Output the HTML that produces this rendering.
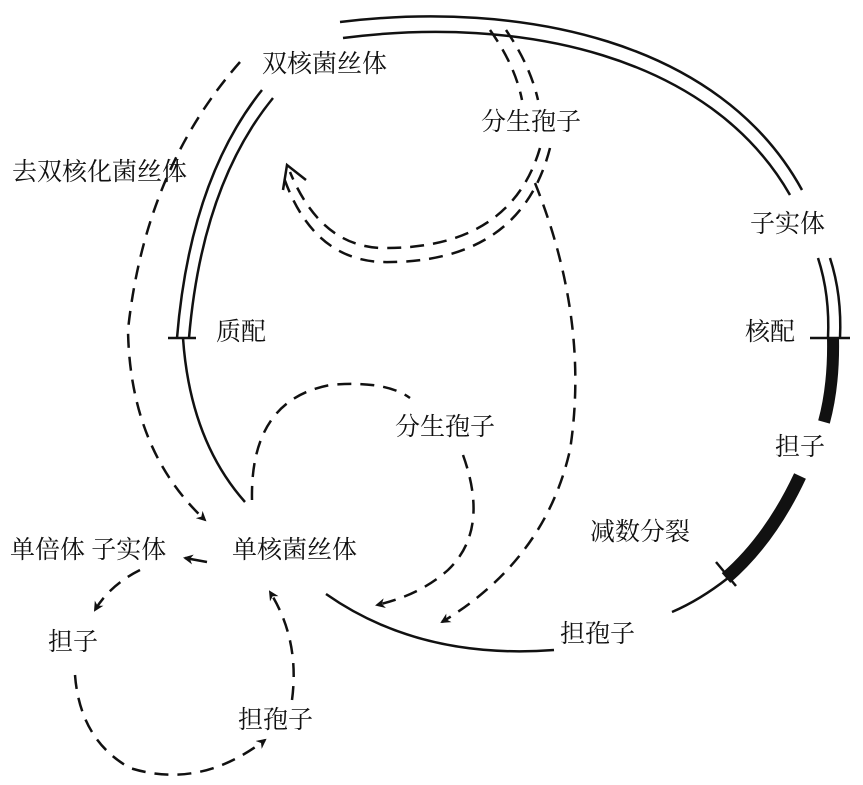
<!DOCTYPE html>
<html><head><meta charset="utf-8"><style>
html,body{margin:0;padding:0;background:#fff;}
svg{display:block}
text{font-family:"Liberation Serif","Noto Serif CJK SC",serif;font-size:25px;fill:#111;}
</style></head><body>
<svg width="863" height="785" viewBox="0 0 863 785" xmlns="http://www.w3.org/2000/svg">
<defs>
<marker id="ah" markerWidth="10" markerHeight="10" refX="8" refY="5" orient="auto" markerUnits="userSpaceOnUse">
<path d="M0,0 L10,5 L0,10 L3,5 Z" fill="#111"/></marker>
</defs>
<g fill="none" stroke="#111" stroke-width="2.5">
<path d="M262,90 Q190,180 177,338"/>
<path d="M273,98 Q202,185 189,338"/>
<path d="M168,338 H196"/>
<path d="M183,338 Q190,440 245,502"/>
<path d="M340,22 C520,0 720,40 802,190"/>
<path d="M343,38 C520,15 710,55 790,195"/>
<path d="M818,258 Q830,295 828,338"/>
<path d="M830,258 Q842,295 840,338"/>
<path d="M810,338 H850"/>
<path d="M833,338 Q834,385 824,422" stroke-width="12"/>
<path d="M800,476 Q770,540 726,578" stroke-width="13"/>
<path d="M716,562 L736,586"/>
<path d="M728,578 Q700,600 672,612"/>
<path d="M326,594 Q420,660 554,650"/>
<path d="M283,190 L287,165 L306,180"/>
</g>
<g fill="none" stroke="#111" stroke-width="2.5" stroke-dasharray="14,9">
<path d="M490,30 Q515,65 522,100"/>
<path d="M506,30 Q530,65 538,100"/>
<path d="M540,148 Q510,250 380,248 Q320,245 290,172"/>
<path d="M550,148 Q520,265 380,262 Q310,258 282,172"/>
<path d="M535,183 Q590,320 570,450 Q545,560 442,622" marker-end="url(#ah)"/>
<path d="M240,62 Q145,170 128,330 Q130,450 205,520" marker-end="url(#ah)"/>
<path d="M252,500 Q250,400 330,385 Q385,380 410,398"/>
<path d="M463,455 Q490,530 448,570 Q420,595 377,605" marker-end="url(#ah)"/>
<path d="M140,570 Q110,585 95,610" marker-end="url(#ah)"/>
<path d="M75,675 Q80,740 130,768 Q200,790 265,740" marker-end="url(#ah)"/>
<path d="M292,700 Q300,640 270,592" marker-end="url(#ah)"/>
</g>
<path d="M207,562 L185,558" stroke="#111" stroke-width="2.5" marker-end="url(#ah)"/>
<text x="262" y="72">双核菌丝体</text>
<text x="12" y="180">去双核化菌丝体</text>
<text x="481" y="130">分生孢子</text>
<text x="750" y="232">子实体</text>
<text x="216" y="340">质配</text>
<text x="745" y="340">核配</text>
<text x="395" y="435">分生孢子</text>
<text x="775" y="455">担子</text>
<text x="590" y="540">减数分裂</text>
<text x="10" y="558">单倍体 子实体</text>
<text x="232" y="558">单核菌丝体</text>
<text x="560" y="642">担孢子</text>
<text x="48" y="650">担子</text>
<text x="238" y="728">担孢子</text>
</svg>
</body></html>
